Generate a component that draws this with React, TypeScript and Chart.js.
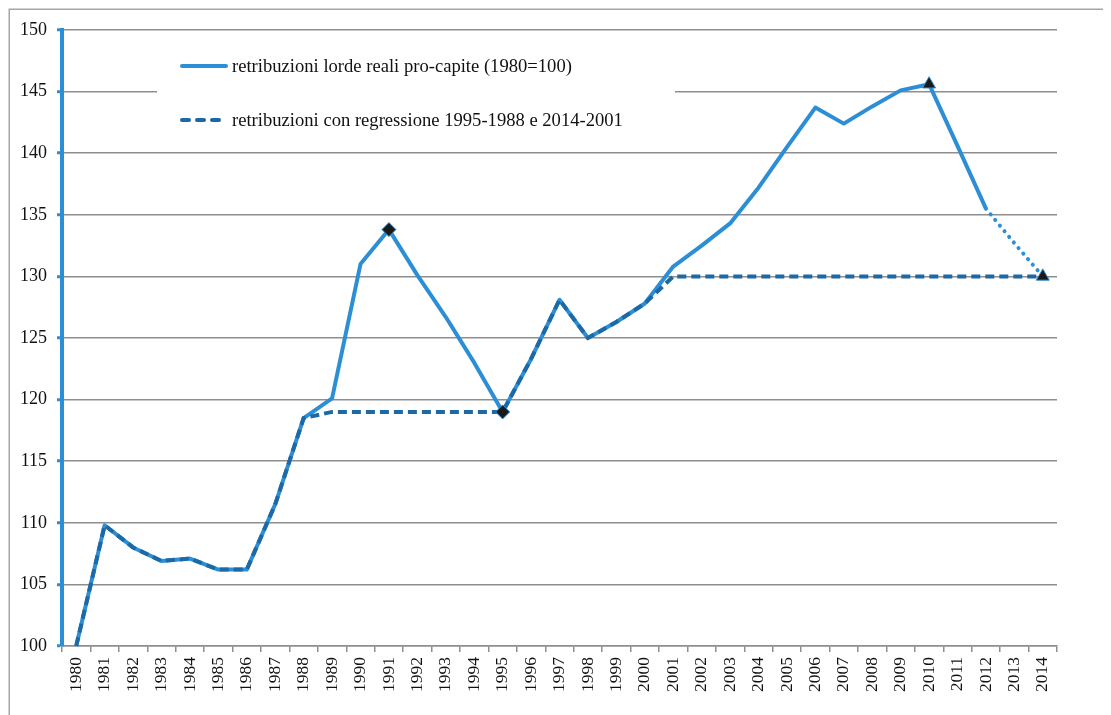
import React, { useEffect, useRef } from "react";
import { Chart, registerables } from "chart.js";

Chart.register(...registerables);

const years = [
  "1980", "1981", "1982", "1983", "1984", "1985", "1986", "1987", "1988", "1989",
  "1990", "1991", "1992", "1993", "1994", "1995", "1996", "1997", "1998", "1999",
  "2000", "2001", "2002", "2003", "2004", "2005", "2006", "2007", "2008", "2009",
  "2010", "2011", "2012", "2013", "2014",
];

const retribuzioniReali = [
  100, 109.8, 108.0, 106.9, 107.1, 106.2, 106.2, 111.5, 118.5, 120.1,
  131.0, 133.8, 130.1, 126.7, 123.0, 119.0, 123.3, 128.1, 125.0, 126.3,
  127.8, 130.8, 132.5, 134.3, 137.2, 140.5, 143.7, 142.4, 143.8, 145.1,
  145.6, 140.6, 135.5, 132.7, 130.0,
];

const retribuzioniRegressione = [
  100, 109.8, 108.0, 106.9, 107.1, 106.2, 106.2, 111.5, 118.5, 119.0,
  119.0, 119.0, 119.0, 119.0, 119.0, 119.0, 123.3, 128.1, 125.0, 126.3,
  127.8, 130.0, 130.0, 130.0, 130.0, 130.0, 130.0, 130.0, 130.0, 130.0,
  130.0, 130.0, 130.0, 130.0, 130.0,
];

const legendLabels = [
  "retribuzioni lorde reali pro-capite (1980=100)",
  "retribuzioni con regressione 1995-1988 e 2014-2001",
];

const dottedFromIndex = 32;
const diamondYearsSolid = ["1991"];
const triangleYearsSolid = ["2010"];
const diamondYearsDashed = ["1995"];
const triangleYearsDashed = ["2014"];

const LIGHT = "#2c8fd6";
const DARK = "#1c69a6";
const GRID = "#8e8e8e";
const SERIF = '"Liberation Serif", "Times New Roman", "DejaVu Serif", serif';

function markerArrays(diamonds: string[], triangles: string[]) {
  const radius = years.map((y) => (triangles.includes(y) ? 7.5 : diamonds.includes(y) ? 7 : 0));
  const style = years.map((y) => (triangles.includes(y) ? "triangle" : "rectRot"));
  return { radius, style };
}

const framePlugin = {
  id: "frame",
  beforeDraw(chart: any) {
    const ctx = chart.ctx;
    ctx.save();
    ctx.fillStyle = "#ffffff";
    ctx.fillRect(0, 0, chart.width, chart.height);
    ctx.strokeStyle = "#a6a6a6";
    ctx.lineWidth = 1.5;
    ctx.strokeRect(1.25, 1.25, chart.width + 20, chart.height + 20);
    ctx.restore();
  },
};

const legendPlugin = {
  id: "customLegend",
  afterDraw(chart: any) {
    const ctx = chart.ctx;
    ctx.save();
    ctx.fillStyle = "#ffffff";
    ctx.fillRect(149, 31, 518, 100);
    ctx.font = "18.6px " + SERIF;
    ctx.fillStyle = "#111111";
    ctx.textBaseline = "middle";
    ctx.textAlign = "left";
    // item 1
    ctx.strokeStyle = LIGHT;
    ctx.lineWidth = 4;
    ctx.lineCap = "round";
    ctx.setLineDash([]);
    ctx.beginPath();
    ctx.moveTo(174, 58);
    ctx.lineTo(218, 58);
    ctx.stroke();
    ctx.fillText(legendLabels[0], 224, 59);
    // item 2
    ctx.strokeStyle = DARK;
    ctx.lineCap = "round";
    ctx.setLineDash([7, 8]);
    ctx.beginPath();
    ctx.moveTo(174, 112);
    ctx.lineTo(216, 112);
    ctx.stroke();
    ctx.setLineDash([]);
    ctx.fillText(legendLabels[1], 224, 113);
    ctx.restore();
  },
};

export default function App() {
  const ref = useRef<HTMLCanvasElement>(null);

  useEffect(() => {
    if (!ref.current) return;
    const m1 = markerArrays(diamondYearsSolid, triangleYearsSolid);
    const m2 = markerArrays(diamondYearsDashed, triangleYearsDashed);
    const chart = new Chart(ref.current, {
      type: "line",
      data: {
        labels: years,
        datasets: [
          {
            label: legendLabels[0],
            data: retribuzioniReali,
            borderColor: LIGHT,
            borderWidth: 4,
            borderJoinStyle: "round",
            tension: 0,
            pointRadius: m1.radius,
            pointStyle: m1.style as any,
            pointBackgroundColor: "#1a1a1a",
            pointBorderColor: LIGHT,
            pointBorderWidth: 1,
            order: 2,
            clip: false as any,
            segment: {
              borderDash: (ctx: any) => (ctx.p0DataIndex >= dottedFromIndex ? [0.1, 7.2] : undefined),
              borderCapStyle: (ctx: any) => (ctx.p0DataIndex >= dottedFromIndex ? "round" : "butt"),
            } as any,
          },
          {
            label: legendLabels[1],
            data: retribuzioniRegressione,
            borderColor: DARK,
            borderWidth: 4,
            borderDash: [9, 5],
            tension: 0,
            pointRadius: m2.radius,
            pointStyle: m2.style as any,
            pointBackgroundColor: "#1a1a1a",
            pointBorderColor: LIGHT,
            pointBorderWidth: 1,
            order: 1,
            clip: false as any,
          },
        ],
      },
      options: {
        responsive: false,
        animation: false,
        layout: { padding: { top: 22, right: 54, left: 0, bottom: 0 } },
        plugins: {
          legend: { display: false },
          tooltip: { enabled: false },
        },
        scales: {
          x: {
            type: "category",
            offset: true,
            afterFit: (s: any) => {
              s.height = 69;
            },
            grid: {
              offset: true,
              drawOnChartArea: false,
              drawTicks: true,
              tickLength: 6,
              color: GRID,
              lineWidth: 1.5,
            },
            border: { color: GRID, width: 1.5 },
            ticks: {
              autoSkip: false,
              minRotation: 90,
              maxRotation: 90,
              padding: 5,
              color: "#111111",
              font: { family: SERIF, size: 17.5 },
            },
          },
          y: {
            min: 100,
            max: 150,
            afterFit: (s: any) => {
              s.width = 54;
            },
            grid: {
              color: GRID,
              lineWidth: 1.5,
              drawTicks: true,
              tickLength: 5,
              tickColor: LIGHT,
              tickWidth: 3,
            },
            border: { color: LIGHT, width: 4 },
            ticks: {
              stepSize: 5,
              padding: 10,
              color: "#111111",
              font: { family: SERIF, size: 18 },
            },
          },
        },
      },
      plugins: [framePlugin, legendPlugin],
    });
    return () => chart.destroy();
  }, []);

  return (
    <canvas
      ref={ref}
      width={1103}
      height={707}
      style={{ display: "block", width: 1103, height: 707 }}
    />
  );
}
